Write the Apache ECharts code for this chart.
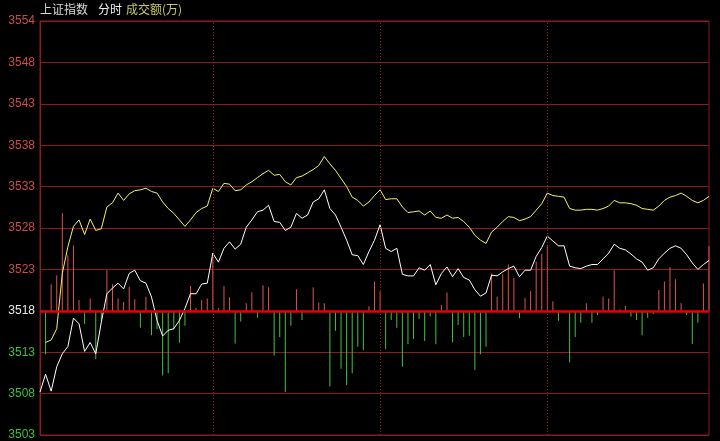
<!DOCTYPE html>
<html><head><meta charset="utf-8">
<script src="https://cdn.jsdelivr.net/npm/echarts@6/dist/echarts.min.js"></script>
<style>html,body{margin:0;padding:0;background:#000;}#c{width:720px;height:441px;}</style>
</head><body><div id="c"></div>
<script>
// y-axis tick labels (as printed), axis range 3503.0 .. 3554.0 step 5.1
const yTickLabels = ['3503','3508','3513','3518','3523','3528','3533','3538','3543','3548','3554'];
const yMin = 3503.0, yMax = 3554.0, yStep = 5.1;
// white line: index price (121 two-minute points)
const indexLine = [3508.3,3510.5,3508.4,3511.4,3513.0,3513.9,3517.4,3516.7,3513.3,3514.4,
3513.0,3516.9,3520.4,3521.1,3521.7,3521.0,3522.9,3523.3,3522.0,3521.7,
3520.0,3517.1,3515.2,3515.9,3516.1,3517.1,3518.6,3520.4,3520.4,3521.6,
3521.7,3525.4,3524.3,3526.0,3526.8,3525.9,3526.5,3528.6,3529.5,3530.5,
3530.7,3531.3,3529.3,3529.2,3528.2,3528.6,3530.3,3529.7,3530.1,3531.7,
3532.1,3533.2,3530.9,3530.1,3528.6,3527.0,3525.2,3525.1,3524.0,3525.6,
3527.0,3528.9,3526.0,3525.6,3526.0,3522.8,3522.6,3522.6,3523.6,3523.3,
3524.0,3521.5,3522.9,3523.7,3522.5,3523.5,3522.4,3522.1,3520.9,3520.1,
3520.5,3522.7,3522.6,3523.1,3523.5,3523.8,3522.5,3523.3,3523.3,3525.0,
3526.1,3527.5,3526.9,3526.3,3526.3,3523.8,3523.6,3523.5,3523.8,3524.0,
3524.0,3524.7,3525.4,3526.5,3526.0,3525.8,3525.3,3524.7,3524.3,3523.3,
3523.6,3524.7,3525.4,3526.0,3526.3,3526.0,3525.2,3524.2,3523.4,3524.0,
3524.5];
// yellow line
const avgLine = [null,3514.4,3514.7,3516.1,3522.9,3526.2,3528.7,3529.5,3527.7,3529.6,
3528.2,3528.4,3531.1,3531.6,3532.8,3531.9,3532.7,3533.1,3533.2,3533.4,
3533.0,3532.8,3531.7,3530.9,3530.3,3529.5,3528.7,3529.5,3530.4,3530.9,
3531.2,3533.4,3533.0,3534.0,3533.9,3533.1,3533.2,3533.8,3534.2,3534.7,
3535.2,3535.6,3535.0,3535.1,3534.2,3533.8,3534.7,3534.9,3535.3,3535.7,
3536.2,3537.3,3536.4,3535.6,3534.6,3533.6,3532.3,3531.9,3531.2,3531.7,
3532.5,3533.2,3532.0,3532.1,3532.1,3531.1,3530.4,3530.5,3530.6,3530.1,
3530.6,3529.8,3529.7,3530.1,3529.7,3529.8,3529.3,3528.6,3527.6,3527.0,
3526.6,3528.0,3528.6,3529.3,3529.9,3529.8,3529.4,3529.6,3529.9,3530.7,
3531.5,3532.8,3532.5,3532.4,3532.3,3530.9,3530.7,3530.7,3530.8,3530.8,
3530.7,3530.9,3531.2,3531.9,3531.6,3531.6,3531.5,3531.3,3530.9,3530.8,
3530.7,3531.2,3531.9,3532.3,3532.5,3532.8,3532.4,3531.9,3531.6,3531.9,
3532.4];
// red/green bars (arbitrary units, + up / - down)
const bars = [0,-10.5,6.4,8.6,23.6,13.4,15.8,2.6,-3.2,3.0,
-11.7,-2.4,9.8,6.4,3.0,2.1,5.8,2.8,-4.1,3.4,
-5.9,-4.4,-15.6,-15.1,-4.5,-7.7,-3.6,6.0,0.7,2.6,
3.0,13.0,0.6,6.0,3.3,-7.9,-2.6,1.8,4.5,-1.7,
6.2,5.7,-10.8,-6.3,-19.6,-3.6,5.2,-2.2,0,5.7,
2.0,1.8,-18.3,-4.8,-14.0,-17.9,-15.1,-8.7,-9.5,1.1,
7.1,4.7,-9.2,-2.2,-4.1,-13.5,-8.1,-6.8,-2.0,-7.3,
-1.4,-8.1,1.4,4.4,-7.6,-3.4,-6.3,-6.0,-14.3,-10.5,
-8.7,9.0,3.4,8.8,11.2,7.9,-1.8,3.1,4.7,11.9,
13.8,15.6,2.3,-2.4,-0.4,-12.4,-6.3,-2.9,1.8,-2.9,
-1.0,3.4,3.0,9.8,0.4,1.2,-1.4,-2.2,-5.9,-1.7,
-0.8,5.0,7.1,10.6,7.6,1.9,-1.0,-8.0,-2.9,6.6,
15.6];
const hourMarks = [31, 61, 91];
const categories = indexLine.map((_, i) => i);

const RED = '#e05252', GREEN = '#3ec43e', GRID = '#8a1c1c';
const chart = echarts.init(document.getElementById('c'), null, {renderer: 'canvas'});
chart.setOption({
  backgroundColor: '#000',
  animation: false,
  grid: {left: 40, right: 11, top: 21, bottom: 6, show: true, borderColor: GRID, borderWidth: 1},
  graphic: [
    {type: 'text', left: 40, top: 3, style: {text: '上证指数', fill: '#d8d8d8', font: '12px "Noto Sans CJK SC"'}},
    {type: 'text', left: 98, top: 3, style: {text: '分时', fill: '#f0f0f0', font: '12px "Noto Sans CJK SC"'}},
    {type: 'text', left: 126, top: 3, style: {text: '成交额(万)', fill: '#c8c870', font: '12px "Noto Sans CJK SC"'}}
  ],
  xAxis: {type: 'category', data: categories, boundaryGap: false, show: false,
          splitLine: {show: false}, splitArea: {show: false}},
  yAxis: [
    {type: 'value', min: yMin, max: yMax, interval: yStep,
     axisLine: {show: true, lineStyle: {color: GRID}}, axisTick: {show: false},
     splitArea: {show: false},
     splitLine: {show: true, lineStyle: {color: GRID, width: 1, type: 'solid', opacity: 1}},
     axisLabel: {margin: 5, fontFamily: 'Liberation Sans', fontSize: 12,
       formatter: (v, i) => yTickLabels[i],
       color: (v, i) => i === 3 ? '#e8e8e8' : (i > 3 ? '#d04a4a' : '#3cc03c')}},
    {type: 'value', min: -30, max: 70, show: false,
     axisLine: {show: false}, axisTick: {show: false}, axisLabel: {show: false},
     splitLine: {show: false}, splitArea: {show: false}}
  ],
  series: [
    {type: 'bar', yAxisIndex: 1, barWidth: 1, silent: true,
     data: bars.map(v => ({value: v, itemStyle: {color: v >= 0 ? RED : GREEN}})),
     markLine: {silent: true, symbol: 'none', label: {show: false},
       data: [
         {yAxis: 0, lineStyle: {color: '#e60000', width: 2.5, type: 'solid'}},
         ...hourMarks.map(m => ({xAxis: m, lineStyle: {color: '#a02020', width: 1, type: [1, 2]}}))
       ]}},
    {type: 'line', data: indexLine, symbol: 'none', lineStyle: {color: '#ffffff', width: 1}, silent: true},
    {type: 'line', data: avgLine, symbol: 'none', lineStyle: {color: '#f4f464', width: 1}, silent: true}
  ]
});
</script></body></html>
